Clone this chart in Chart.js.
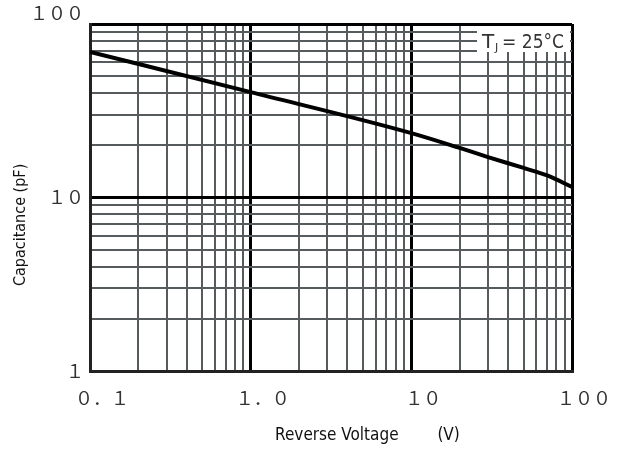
<!DOCTYPE html>
<html>
<head>
<meta charset="utf-8">
<script src="https://cdn.jsdelivr.net/npm/chart.js@4"></script>
<style>
  body { margin: 0; background: #fff; }
</style>
</head>
<body>
<canvas id="grafico" width="622" height="454"></canvas>
<script>
// datos (V en voltios, C en pF)
const voltage = [0.1, 1, 10, 20, 30, 50, 70, 100];
const capacitance = [69, 40.5, 23.5, 19.3, 17.1, 14.8, 13.4, 11.5];

// decadas y etiquetas de los ejes
const xDecades = [0.1, 1, 10, 100];
const xTickLabels = ['０．１', '１．０', '１０', '１００'];
const yDecades = [1, 10, 100];
const yTickLabels = ['１', '１０', '１００'];
const multipliers = [1, 2, 3, 4, 5, 6, 7, 8, 9];

function gridValues(decades) {
    const vals = [];
    decades.slice(0, -1).forEach(d => multipliers.forEach(m => vals.push(+(d * m).toPrecision(3))));
    vals.push(decades[decades.length - 1]);
    return vals;
}
const xGrid = gridValues(xDecades);
const yGrid = gridValues(yDecades);

const isDecade = v => Math.abs(Math.log10(v) - Math.round(Math.log10(v))) < 1e-6;
const tickFont = { family: "'Noto Sans CJK JP', sans-serif", size: 18 };
const narrow = "'Liberation Sans Narrow', 'DejaVu Sans Condensed', sans-serif";

const gridOpts = {
    color: ctx => isDecade(ctx.tick.value) ? '#000' : '#565b5d',
    lineWidth: ctx => isDecade(ctx.tick.value) ? 3 : 2,
    drawTicks: false
};

// cuadro de temperatura arriba a la derecha
const tjBox = {
    id: 'tjBox',
    afterDraw(chart) {
        const { ctx, chartArea } = chart;
        const x0 = chartArea.right - 95, y0 = chartArea.top + 2;
        ctx.save();
        ctx.fillStyle = '#fff';
        ctx.fillRect(x0, y0, 93, 26);
        ctx.fillStyle = '#333';
        ctx.textBaseline = 'alphabetic';
        ctx.font = "20px 'DejaVu Sans', sans-serif";
        ctx.fillText('T', x0 + 5, y0 + 22);
        ctx.font = "11px 'DejaVu Sans', sans-serif";
        ctx.fillText('J', x0 + 18, y0 + 25);
        ctx.font = "20px 'DejaVu Sans', sans-serif";
        ctx.fillText('= 25°C', x0 + 25, y0 + 22, 62);
        ctx.restore();
    }
};

new Chart(document.getElementById('grafico').getContext('2d'), {
    type: 'scatter',
    data: {
        datasets: [{
            label: 'Capacitance',
            data: voltage.map((v, i) => ({ x: v, y: capacitance[i] })),
            showLine: true,
            borderColor: '#000',
            borderWidth: 4,
            pointRadius: 0,
            cubicInterpolationMode: 'monotone'
        }]
    },
    options: {
        responsive: false,
        animation: false,
        devicePixelRatio: 1,
        layout: { padding: { top: 24, right: 50, left: 0, bottom: 0 } },
        plugins: { legend: { display: false }, tooltip: { enabled: false } },
        scales: {
            x: {
                type: 'logarithmic',
                min: 0.1,
                max: 100,
                afterBuildTicks: scale => { scale.ticks = xGrid.map(v => ({ value: v })); },
                afterFit: scale => { scale.height = 83; },
                ticks: {
                    autoSkip: false,
                    maxRotation: 0,
                    padding: 16,
                    labelOffset: 12,
                    color: '#333',
                    font: tickFont,
                    callback: v => {
                        const i = xDecades.findIndex(d => Math.abs(d - v) < 1e-9);
                        return i >= 0 ? xTickLabels[i] : '';
                    }
                },
                grid: gridOpts,
                border: { display: true, color: '#222', width: 3 },
                title: {
                    display: true,
                    text: '               Reverse Voltage        (V)',
                    color: '#111',
                    font: { family: narrow, size: 17 },
                    padding: { top: 0, bottom: 8 }
                }
            },
            y: {
                type: 'logarithmic',
                min: 1,
                max: 100,
                afterBuildTicks: scale => { scale.ticks = yGrid.map(v => ({ value: v })); },
                afterFit: scale => { scale.width = 90; scale.paddingTop = 0; },
                ticks: {
                    autoSkip: false,
                    padding: 6,
                    color: '#333',
                    font: tickFont,
                    callback: v => {
                        const i = yDecades.findIndex(d => Math.abs(d - v) < 1e-9);
                        if (i < 0) return '';
                        return i === yDecades.length - 1 ? [yTickLabels[i], ''] : yTickLabels[i];
                    }
                },
                grid: gridOpts,
                border: { display: true, color: '#222', width: 3 },
                title: {
                    display: true,
                    text: 'Capacitance (pF)            ',
                    color: '#111',
                    font: { family: narrow, size: 16 },
                    padding: { top: 11, bottom: 0 }
                }
            }
        }
    },
    plugins: [tjBox]
});
</script>
</body>
</html>
